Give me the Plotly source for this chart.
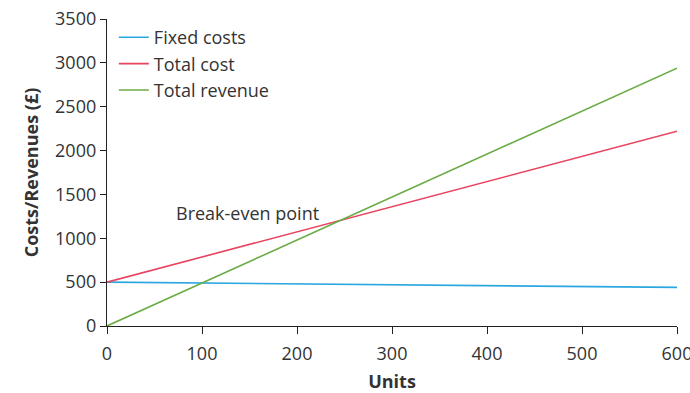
import plotly.graph_objects as go

units = [0, 600]
fixed_costs = [500, 440]
total_cost = [500, 2220]
total_revenue = [0, 2940]

x_ticks = [0, 100, 200, 300, 400, 500, 600]
y_ticks = [0, 500, 1000, 1500, 2000, 2500, 3000, 3500]

FONT = "Open Sans"
TXT = "#333333"

fig = go.Figure()
fig.add_trace(go.Scatter(x=units, y=fixed_costs, mode="lines", name="Fixed costs",
                         line=dict(color="#2aa7df", width=1.6)))
fig.add_trace(go.Scatter(x=units, y=total_cost, mode="lines", name="Total cost",
                         line=dict(color="#e8435f", width=1.6)))
fig.add_trace(go.Scatter(x=units, y=total_revenue, mode="lines", name="Total revenue",
                         line=dict(color="#6aab45", width=1.6)))

fig.add_annotation(x=70, y=1290, text="Break-even point", showarrow=False,
                   xanchor="left", yanchor="middle",
                   font=dict(family=FONT, size=18, color=TXT))

fig.update_layout(
    width=690, height=393,
    margin=dict(l=107, r=13, t=19, b=67),
    paper_bgcolor="white", plot_bgcolor="white",
    font=dict(family=FONT, size=18, color=TXT),
    showlegend=True,
    legend=dict(x=0.012, y=1.0, xanchor="left", yanchor="top",
                bgcolor="rgba(0,0,0,0)", font=dict(family=FONT, size=18, color=TXT),
                tracegroupgap=0, itemwidth=30),
    xaxis=dict(range=[0, 600], tickvals=x_ticks, ticktext=[str(v) for v in x_ticks],
               showgrid=False, zeroline=False, showline=True, linecolor="#222",
               linewidth=1.3, ticks="outside", ticklen=7, tickcolor="#222",
               automargin=False, ticklabeloverflow="allow", ticklabelstandoff=4,
               title=dict(text="<b>Units</b>", font=dict(family=FONT, size=18, color=TXT),
                          standoff=14),
               tickfont=dict(family=FONT, size=18, color=TXT)),
    yaxis=dict(range=[0, 3500], tickvals=y_ticks, ticktext=[str(v) for v in y_ticks],
               showgrid=False, zeroline=False, showline=True, linecolor="#222",
               linewidth=1.3, ticks="outside", ticklen=6, tickcolor="#222",
               automargin=False, ticklabeloverflow="allow",
               title=dict(text="<b>Costs/Revenues (£)</b>", font=dict(family=FONT, size=18, color=TXT),
                          standoff=11),
               tickfont=dict(family=FONT, size=18, color=TXT)),
)

fig.write_html("out.html", config={"displayModeBar": False},
               post_script="document.body.style.margin='0';document.body.style.overflow='hidden';")
